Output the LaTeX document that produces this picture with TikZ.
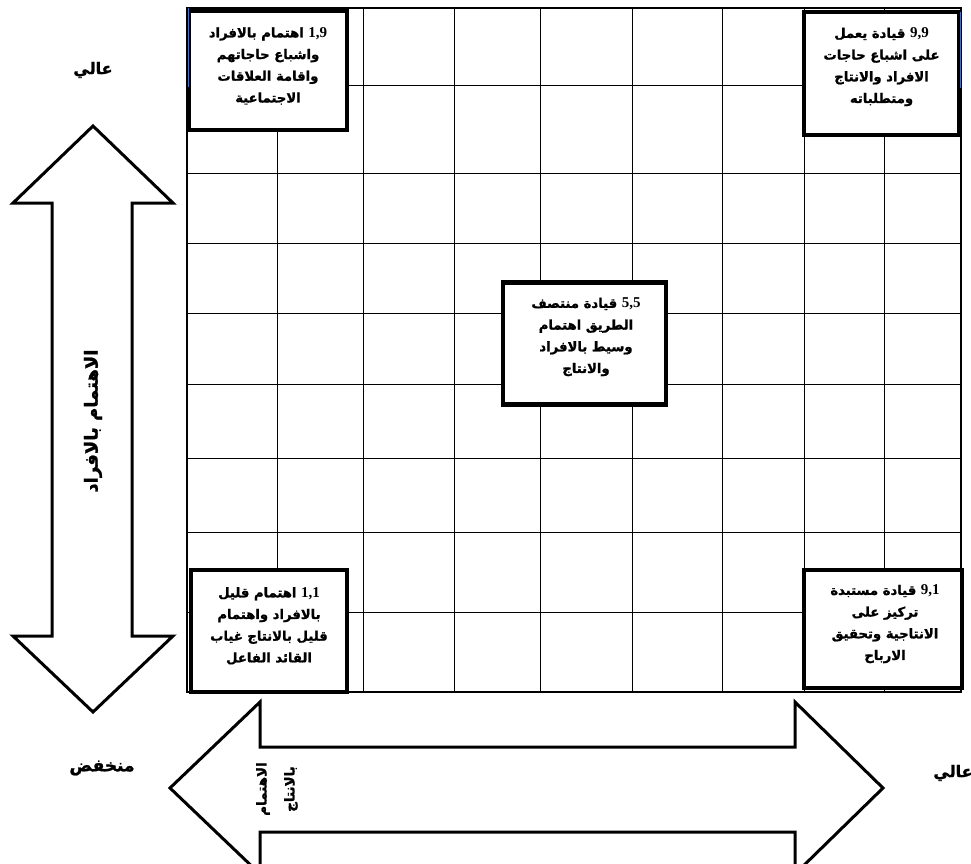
\documentclass[tikz,border=0pt]{standalone}
\usepackage{fontspec}
\TeXXeTstate=1
\newfontfamily\arabicfont[Script=Arabic, BoldFeatures={FakeBold=1.3}]{DejaVu Sans}
\newfontfamily\numfont{Liberation Serif}
% one right-to-left line, and a left-to-right number inside it
\newcommand\rtl[1]{\beginR #1\endR}
\newcommand\qnum[1]{\beginL{\numfont\bfseries\fontsize{15}{15}\selectfont #1}\endL{}}

\begin{document}
\begin{tikzpicture}[x=1pt,y=-1pt,
  gridline/.style={line width=1pt},
  frame/.style={line width=1.8pt},
  gridbox/.style={draw, line width=4.2pt, fill=white, inner sep=0pt},
  boxtext/.style={align=center, inner sep=0pt,
    font=\arabicfont\bfseries\fontsize{13.2}{21.7}\selectfont},
  bigarrow/.style={draw, line width=3pt, fill=white, miter limit=10},
  axislabel/.style={inner sep=0pt, font=\arabicfont\bfseries\fontsize{16}{18}\selectfont},
  arrowtext/.style={inner sep=0pt, rotate=90, align=center},
  edgemark/.style={line width=1pt, draw={rgb,255:red,68;green,114;blue,196}}
]
\useasboundingbox (0,0) rectangle (971,863);

% 9 x 9 grid
\foreach \x in {277,363,454,540,632,722,804,884}
  \draw[gridline] (\x,8) -- (\x,692);
\foreach \y in {85,173,243,313,384,458,532,612}
  \draw[gridline] (187,\y) -- (961,\y);
\draw[frame] (187,8) rectangle (961,692);

% the five leadership styles
\node[gridbox, minimum width=158pt, minimum height=119pt] (b19) at (268,70.5) {};
\node[gridbox, minimum width=155pt, minimum height=123pt] (b99) at (881.5,73.5) {};
\node[gridbox, minimum width=163pt, minimum height=122pt] (b55) at (584.5,343.5) {};
\node[gridbox, minimum width=156pt, minimum height=122pt] (b11) at (269,631) {};
\node[gridbox, minimum width=157.5pt, minimum height=118pt] (b91) at (883,629) {};

\draw[edgemark] (188.5,8) -- (188.5,87);
\draw[edgemark] (960,12) -- (960,88);

\node[boxtext] (t19) at (268,66) {\rtl{\qnum{1,9} اهتمام بالافراد}\\ \rtl{واشباع حاجاتهم}\\ \rtl{واقامة العلاقات}\\ \rtl{الاجتماعية}};
\node[boxtext] (t99) at (881.5,67) {\rtl{\qnum{9,9} قيادة يعمل}\\ \rtl{على اشباع حاجات}\\ \rtl{الافراد والانتاج}\\ \rtl{ومتطلباته}};
\node[boxtext] (t55) at (586,337) {\rtl{\qnum{5,5} قيادة منتصف}\\ \rtl{الطريق اهتمام}\\ \rtl{وسيط بالافراد}\\ \rtl{والانتاج}};
\node[boxtext] (t11) at (269,626) {\rtl{\qnum{1,1} اهتمام قليل}\\ \rtl{بالافراد واهتمام}\\ \rtl{قليل بالانتاج غياب}\\ \rtl{القائد الفاعل}};
\node[boxtext] (t91) at (885,624) {\rtl{\qnum{9,1} قيادة مستبدة}\\ \rtl{تركيز على}\\ \rtl{الانتاجية وتحقيق}\\ \rtl{الارباح}};

% vertical axis: concern for people
\draw[bigarrow] (93,126) -- (13,203) -- (52,203) -- (52,636) -- (13,636) -- (93,712)
  -- (173,636) -- (132,636) -- (132,203) -- (173,203) -- cycle;
\node[arrowtext, font=\arabicfont\bfseries\fontsize{18}{20}\selectfont] (vlab) at (93,421)
  {\rtl{الاهتمام بالافراد}};
\node[axislabel] (vhigh) at (93,70) {\rtl{عالي}};

% horizontal axis: concern for production
\draw[bigarrow] (170,788) -- (260,702) -- (260,747) -- (795,747) -- (795,702) -- (883,788)
  -- (795,874) -- (795,832) -- (260,832) -- (260,874) -- cycle;
\node[arrowtext, font=\arabicfont\bfseries\fontsize{13.5}{28}\selectfont] (hlab) at (277,789)
  {\rtl{الاهتمام}\\ \rtl{بالانتاج}};
\node[axislabel, font=\arabicfont\bfseries\fontsize{17}{19}\selectfont] (hlow) at (102,768) {\rtl{منخفض}};
\node[axislabel] (hhigh) at (953,773) {\rtl{عالي}};
\end{tikzpicture}
\end{document}
